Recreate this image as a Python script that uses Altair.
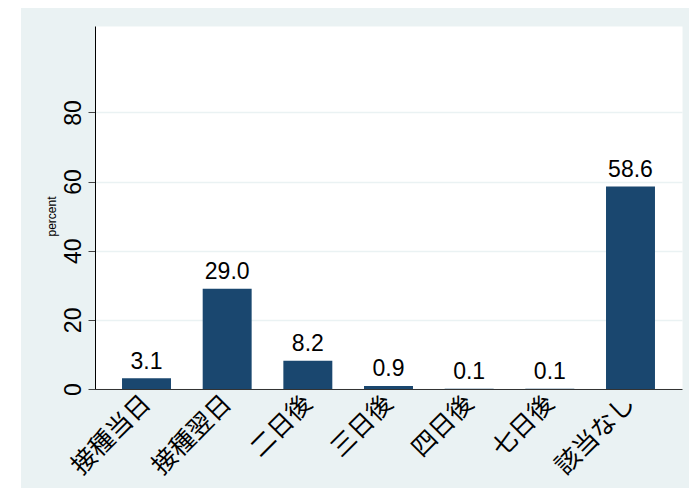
import altair as alt
import pandas as pd

categories = ["接種当日", "接種翌日", "二日後", "三日後", "四日後", "七日後", "該当なし"]
values = [3.1, 29.0, 8.2, 0.9, 0.1, 0.1, 58.6]
y_ticks = [0, 20, 40, 60, 80]

df = pd.DataFrame({"cat": categories, "value": values})

BAR = "#1a476f"
BG = "#eaf2f3"

x_enc = alt.X(
    "cat:N",
    sort=categories,
    title=None,
    scale=alt.Scale(paddingInner=0.393, paddingOuter=0.335),
    axis=alt.Axis(
        labelAngle=315,
        labelAlign="right",
        labelBaseline="middle",
        labelFontSize=25,
        labelFont="Noto Sans CJK JP",
        labelColor="black",
        ticks=False,
        labelPadding=10,
        domainColor="#333333",
        domainWidth=1,
        grid=False,
    ),
)
y_enc = alt.Y(
    "value:Q",
    scale=alt.Scale(domain=[0, 105], nice=False, zero=True),
    axis=alt.Axis(
        values=y_ticks,
        labelAngle=270,
        labelAlign="center",
        labelBaseline="alphabetic",
        labelFontSize=23,
        labelFont="Liberation Sans",
        labelColor="black",
        labelPadding=8,
        tickSize=7,
        tickColor="#444444",
        domainColor="black",
        domainWidth=1,
        grid=True,
        gridColor=BG,
        gridWidth=1.5,
        title="percent",
        titleFont="Liberation Sans",
        titleFontSize=12,
        titleFontWeight="normal",
        titleColor="black",
        titleAngle=270,
        titleAlign="center",
        titleBaseline="bottom",
        titleX=-37,
        titleY=190,
    ),
)

bars = alt.Chart(df).mark_bar(color=BAR).encode(x=x_enc, y=y_enc)

labels = alt.Chart(df).mark_text(
    dy=-9.5, baseline="alphabetic", fontSize=23, font="Liberation Sans", color="black"
).encode(x=alt.X("cat:N", sort=categories), y="value:Q", text=alt.Text("value:Q", format=".1f"))

strip = alt.Chart(pd.DataFrame({"a": [0]})).mark_rect(color="white").encode(
    x=alt.value(-87), x2=alt.value(-74), y=alt.value(-18), y2=alt.value(462)
)

chart = (
    alt.layer(strip, bars, labels)
    .properties(
        width=587,
        height=363,
        autosize=alt.AutoSizeParams(type="none"),
        padding={"left": 87, "top": 18, "right": 7, "bottom": 99},
        background=BG,
    )
    .configure_view(fill="white", stroke="transparent")
)

chart.save("out.html", embed_options={"renderer": "svg", "actions": False})
